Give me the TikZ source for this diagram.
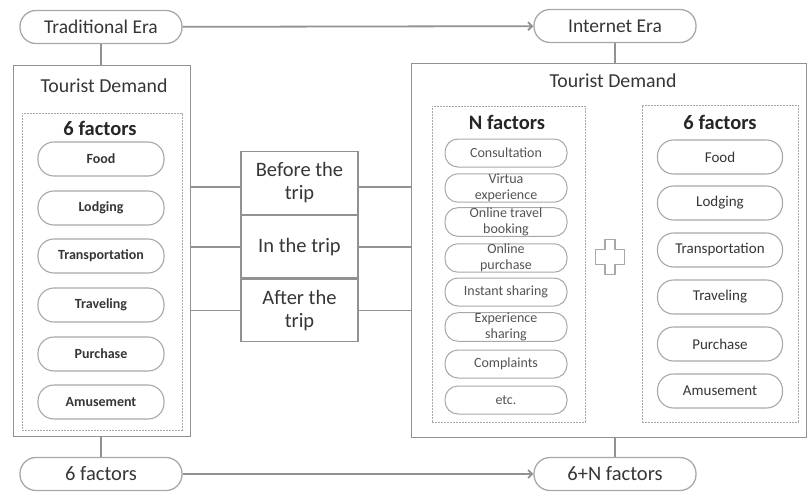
\documentclass[tikz,border=0pt]{standalone}
\usepackage{fontspec}
\setmainfont{Carlito}
\usetikzlibrary{arrows.meta}
\definecolor{edgegray}{HTML}{A8A8A8}
\definecolor{linegray}{HTML}{929292}
\definecolor{txt}{HTML}{363636}

\begin{document}
\begin{tikzpicture}[x=1pt,y=-1pt,
  era/.style={draw=edgegray, line width=1.3pt, rounded corners=16pt,
    minimum width=162pt, minimum height=33pt, inner sep=0pt, text=txt,
    font=\fontsize{19.5}{21}\selectfont},
  panel/.style={draw=linegray, line width=1.2pt, fill=white, anchor=north west, inner sep=0pt},
  group/.style={draw=edgegray, line width=0.8pt, dash pattern=on 2pt off 1pt,
    anchor=north west, inner sep=0pt},
  bigpill/.style={draw=edgegray, line width=1.1pt, rounded corners=16pt,
    minimum width=126pt, minimum height=34pt, inner sep=0pt, text=txt},
  boldpill/.style={bigpill, font=\fontsize{14}{16}\selectfont\bfseries},
  plainpill/.style={bigpill, minimum width=125pt, font=\fontsize{15}{17}\selectfont},
  smallpill/.style={draw=edgegray, line width=1.0pt, rounded corners=13pt,
    minimum width=122pt, minimum height=28pt, inner sep=0pt, text=txt!85,
    font=\fontsize{14}{16.5}\selectfont, align=center},
  link/.style={draw=linegray, line width=1.8pt},
  thinlink/.style={draw=linegray, line width=1.2pt},
  flow/.style={link, -{Straight Barb[length=4pt,width=8pt]}},
  stagebox/.style={draw=linegray, line width=1.2pt, minimum width=117pt,
    minimum height=62.5pt, inner sep=0pt, align=center, text=txt,
    font=\fontsize{20.5}{23}\selectfont},
  heading/.style={text=txt, font=\fontsize{19.8}{22}\selectfont},
  subhead/.style={text=black!85, font=\fontsize{20.5}{22}\selectfont\bfseries},
]
\useasboundingbox (0,0) rectangle (808,492);

% ---- era labels ----
\node[era] (trad) at (101,27) {Traditional Era};
\node[era] (internet) at (615,26) {Internet Era};
\node[era, font=\fontsize{20.5}{22}\selectfont] (six) at (101,474) {6 factors};
\node[era, font=\fontsize{20.5}{22}\selectfont] (sixn) at (615,474) {6+N factors};

% ---- demand panels ----
\node[panel, minimum width=177pt, minimum height=371pt] (oldpanel) at (13,65) {};
\node[panel, minimum width=395pt, minimum height=374pt] (newpanel) at (411,63) {};
\node[heading] (oldtitle) at (104,86) {Tourist Demand};
\node[heading] (newtitle) at (613,81) {Tourist Demand};

% ---- factor groups ----
\node[group, minimum width=160pt, minimum height=317pt] (oldgroup) at (22,113) {};
\node[group, minimum width=153pt, minimum height=316pt] (ngroup) at (432,106) {};
\node[group, minimum width=156pt, minimum height=317pt] (newgroup) at (642,105) {};
\node[subhead] (oldsub) at (100,128) {6 factors};
\node[subhead] (nsub) at (507,122) {N factors};
\node[subhead] (newsub) at (720,122) {6 factors};

% traditional six factors
\node[boldpill] (ofood)  at (101,159) {Food};
\node[boldpill] (olodge) at (101,208) {Lodging};
\node[boldpill] (otrans) at (101,256) {Transportation};
\node[boldpill] (otravel) at (101,305) {Traveling};
\node[boldpill] (obuy)   at (101,354) {Purchase};
\node[boldpill] (ofun)   at (101,402) {Amusement};

% internet-era N factors
\node[smallpill] (n1) at (506,153) {Consultation};
\node[smallpill] (n2) at (506,188) {Virtua\\experience};
\node[smallpill] (n3) at (506,222) {Online travel\\booking};
\node[smallpill] (n4) at (506,258) {Online\\purchase};
\node[smallpill] (n5) at (506,292) {Instant sharing};
\node[smallpill] (n6) at (506,327) {Experience\\sharing};
\node[smallpill] (n7) at (506,364) {Complaints};
\node[smallpill] (n8) at (506,400) {etc.};

% internet-era six factors
\node[plainpill] (nfood)  at (720,157) {Food};
\node[plainpill] (nlodge) at (720,203) {Lodging};
\node[plainpill] (ntrans) at (720,250) {Transportation};
\node[plainpill] (ntravel) at (720,297) {Traveling};
\node[plainpill] (nbuy)   at (720,344) {Purchase};
\node[plainpill] (nfun)   at (720,391) {Amusement};

% plus sign between the groups
\coordinate (plus) at (610,257);
\draw[edgegray, line width=1.2pt, line join=round]
  (plus) ++(-5,-17.5) -- ++(10,0) -- ++(0,10) -- ++(9.5,0) -- ++(0,15)
  -- ++(-9.5,0) -- ++(0,10) -- ++(-10,0) -- ++(0,-10) -- ++(-9.5,0)
  -- ++(0,-15) -- ++(9.5,0) -- cycle;

% ---- trip stages ----
\node[stagebox] (before) at (299.5,183) {Before the\\trip};
\node[stagebox, anchor=north] (during) at (before.south) {In the trip};
\node[stagebox, anchor=north] (after) at (during.south) {After the\\trip};

% ---- connectors ----
\draw[flow] (trad) -- (internet);
\draw[flow] (six) -- (sixn);
\draw[thinlink] (trad.south) -- (trad.south |- oldpanel.north);
\draw[thinlink] (internet.south) -- (internet.south |- newpanel.north);
\draw[thinlink] (oldpanel.south -| six.north) -- (six.north);
\draw[thinlink] (newpanel.south -| sixn.north) -- (sixn.north);

\draw[link] ([yshift=-4pt]before.west) -- ([yshift=-4pt]before.west -| oldpanel.east);
\draw[link] ([yshift=-4pt]before.east) -- ([yshift=-4pt]before.east -| newpanel.west);
\draw[link] (during.west) -- (during.west -| oldpanel.east);
\draw[link] (during.east) -- (during.east -| newpanel.west);
\draw[link] (after.west) -- (after.west -| oldpanel.east);
\draw[link] (after.east) -- (after.east -| newpanel.west);
\end{tikzpicture}
\end{document}
